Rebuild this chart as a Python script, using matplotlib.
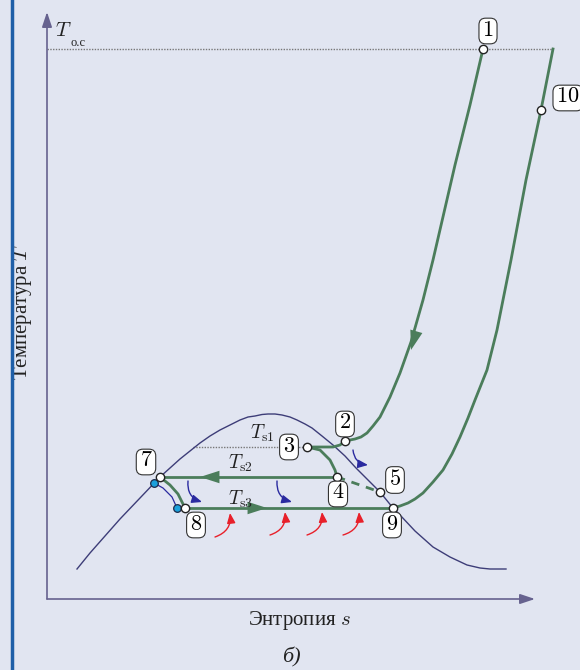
import matplotlib
matplotlib.use('Agg')
import matplotlib.pyplot as plt
from matplotlib.lines import Line2D

plt.rcParams['font.family'] = 'serif'
plt.rcParams['font.serif'] = ['Liberation Serif', 'DejaVu Serif']
plt.rcParams['mathtext.fontset'] = 'cm'

# цвета
bg = '#e1e5f1'
green = '#4b7d5b'
navy = '#3d3d78'
axc = '#66628f'

# линия насыщения (купол)
dome_s = [3.0, 4.3, 5.8, 7.3, 9.3, 11.3, 12.3, 13.3, 14.3, 15.3, 16.3, 17.3, 18.3, 19.3,
          20.1, 20.8, 21.5, 22.1, 22.8, 23.5, 24.3, 25.0, 25.8, 26.5, 27.5, 28.6, 29.8,
          30.9, 32.1, 33.3, 34.6, 35.3, 36.8, 38.6, 40.3, 42.0, 43.3, 44.3, 45.9]
dome_T = [3.0, 4.6, 6.3, 8.0, 10.1, 12.2, 13.1, 14.0, 14.8, 15.6, 16.3, 16.9, 17.4, 17.9,
          18.2, 18.3, 18.45, 18.5, 18.5, 18.4, 18.2, 17.9, 17.5, 17.1, 16.3, 15.4, 14.3,
          13.1, 11.9, 10.7, 9.1, 8.4, 6.8, 5.2, 4.2, 3.4, 3.1, 3.0, 3.0]

# процесс 1-2-3
c12_s = [43.6, 42.3, 40.8, 38.6, 37.6, 36.4, 35.3, 34.3, 33.3, 32.6, 32.0, 31.4, 30.8,
         30.3, 29.8, 29.3, 28.6, 26.0]
c12_T = [55.0, 49.4, 43.4, 33.9, 29.9, 25.7, 22.6, 20.2, 18.2, 17.3, 16.6, 16.2, 16.0,
         15.9, 15.8, 15.4, 15.2, 15.2]

# процесс 10-9
c910_s = [50.6, 49.4, 47.9, 46.4, 45.8, 45.0, 44.0, 42.8, 42.1, 41.3, 40.5, 39.6, 38.6,
          37.6, 36.8, 36.1, 35.3, 34.6]
c910_T = [55.0, 48.9, 41.9, 33.9, 30.9, 26.9, 22.9, 19.9, 18.1, 16.2, 14.5, 12.9, 11.7,
          10.6, 10.0, 9.6, 9.3, 9.1]

# процесс 3-4
c34_s = [26.0, 27.3, 28.3, 28.8, 29.0]
c34_T = [15.2, 14.9, 13.9, 12.9, 12.2]

# процесс 7-8
c78_s = [11.3, 12.3, 13.1, 13.6, 13.8]
c78_T = [12.2, 11.4, 10.5, 9.5, 9.1]

# тонкая кривая между голубыми точками
cb_s = [10.7, 11.6, 12.5, 13.0]
cb_T = [11.6, 11.1, 10.2, 9.1]

T_oc = 55.0
Ts1, Ts2, Ts3 = 15.2, 12.2, 9.1

# узловые точки
pt_names = ['1', '10', '2', '3', '4', '5', '9', '7', '8']
pt_s = [43.6, 49.4, 29.8, 26.0, 29.0, 33.3, 34.6, 11.3, 13.8]
pt_T = [55.0, 48.9, 15.8, 15.2, 12.2, 10.7, 9.1, 12.2, 9.1]
lab_s = [44.1, 52.1, 29.8, 24.2, 29.1, 34.8, 34.5, 9.9, 14.9]
lab_T = [56.8, 50.1, 17.5, 15.2, 10.5, 11.9, 7.4, 13.7, 7.4]

blue_s = [10.7, 13.0]
blue_T = [11.6, 9.1]

# стрелки теплообмена
blue_arr = [((14.1, 11.8), (15.5, 9.7)), ((23.0, 11.8), (24.5, 9.7)), ((30.6, 14.9), (32.1, 13.4))]
red_arr = [((16.8, 6.2), (18.3, 8.6)), ((22.3, 6.4), (23.8, 8.7)),
           ((26.0, 6.4), (27.5, 8.7)), ((29.6, 6.4), (31.2, 8.7))]

fig = plt.figure(figsize=(5.8, 6.7), dpi=100)
fig.patch.set_facecolor(bg)
ax = fig.add_axes([0, 0, 1, 1])
ax.set_facecolor(bg)
ax.set_xlim(-4.7, 53.3)
ax.set_ylim(-7.1, 59.9)
ax.axis('off')

# синяя полоса слева
fig.add_artist(Line2D([0.021, 0.021], [0, 1], color='#1f5fa8', lw=2.5, transform=fig.transFigure))

# оси
ax.annotate('', xy=(0, 58.7), xytext=(0, 0),
            arrowprops=dict(arrowstyle='-|>,head_length=0.9,head_width=0.3', color=axc, lw=1.2, shrinkA=0, shrinkB=0))
ax.annotate('', xy=(48.8, 0), xytext=(0, 0),
            arrowprops=dict(arrowstyle='-|>,head_length=0.9,head_width=0.3', color=axc, lw=1.2, shrinkA=0, shrinkB=0))

# пунктирные изотермы
ax.plot([0, c910_s[0]], [T_oc, T_oc], ls=(0, (1, 1)), color='#777777', lw=1)
ax.plot([14.6, pt_s[3]], [Ts1, Ts1], ls=(0, (1, 1)), color='#777777', lw=1)

ax.plot(dome_s, dome_T, color=navy, lw=1.0)

ax.plot(c12_s, c12_T, color=green, lw=2.0)
ax.plot(c910_s, c910_T, color=green, lw=2.0)
ax.plot(c34_s, c34_T, color=green, lw=2.0)
ax.plot(c78_s, c78_T, color=green, lw=2.0)
ax.plot([pt_s[4], pt_s[7]], [Ts2, Ts2], color=green, lw=2.0)
ax.plot([pt_s[8], pt_s[6]], [Ts3, Ts3], color=green, lw=2.0)
ax.plot([pt_s[4], pt_s[5]], [pt_T[4], pt_T[5]], color=green, lw=2.0, ls=(0, (3, 2.5)))
ax.plot(cb_s, cb_T, color='#2a2aa0', lw=0.9)

# стрелки направления
def head(x0, y0, x1, y1):
    ax.annotate('', xy=(x1, y1), xytext=(x0, y0),
                arrowprops=dict(arrowstyle='-|>,head_length=1.4,head_width=0.45', color=green, lw=0,
                                shrinkA=0, shrinkB=0))

head(16.6, Ts2, 15.3, Ts2)
head(20.6, Ts3, 22.0, Ts3)
head(36.8, 26.3, 36.4, 24.9)

for (a, b) in blue_arr:
    ax.annotate('', xy=b, xytext=a,
                arrowprops=dict(arrowstyle='-|>,head_length=0.6,head_width=0.25', color='#2a2aa0', lw=1.0,
                                connectionstyle='arc3,rad=0.4', shrinkA=0, shrinkB=0))
for (a, b) in red_arr:
    ax.annotate('', xy=b, xytext=a,
                arrowprops=dict(arrowstyle='-|>,head_length=0.6,head_width=0.25', color='#e8202a', lw=1.0,
                                connectionstyle='arc3,rad=0.4', shrinkA=0, shrinkB=0))

ax.plot(blue_s, blue_T, 'o', ms=5.5, mfc='#1aa0dc', mec='#1b2a4a', mew=0.9, zorder=5)
ax.plot(pt_s, pt_T, 'o', ms=6, mfc='white', mec='#222222', mew=1.0, zorder=5)

for name, x, y in zip(pt_names, lab_s, lab_T):
    ax.text(x, y, '$' + name + '$', fontsize=16, ha='center', va='center', zorder=6,
            bbox=dict(boxstyle='round,pad=0.15,rounding_size=0.3', fc='white', ec='#333333', lw=0.8))

# T о.с — буква и индекс отдельно, чтобы не было пробела после точки
ax.text(1.6, 56.7, r'$T$', fontsize=15, ha='center', va='center', color='#222222')
ax.text(2.35, 55.6, 'о.с', fontsize=9, ha='left', va='center', color='#222222')
ax.text(21.5, 16.6, r'$T_{\rm s1}$', fontsize=14, ha='center', va='center', color='#222222')
ax.text(19.3, 13.6, r'$T_{\rm s2}$', fontsize=14, ha='center', va='center', color='#222222')
ax.text(19.3, 10.0, r'$T_{\rm s3}$', fontsize=14, ha='center', va='center', color='#222222')

ax.text(-2.5, 28.7, 'Температура $T$', fontsize=15, rotation=90, ha='center', va='center', color='#222222')
ax.text(25.2, -2.1, 'Энтропия $s$', fontsize=15, ha='center', va='center', color='#222222')
ax.text(24.4, -5.8, 'б)', fontsize=16, style='italic', ha='center', va='center', color='#222222')

fig.savefig('out.png', dpi=100, facecolor=bg)
